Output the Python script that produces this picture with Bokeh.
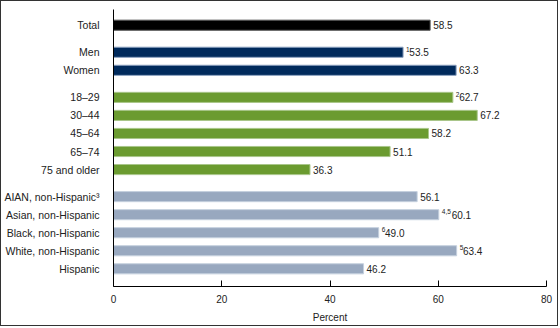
from bokeh.plotting import figure
from bokeh.models import Range1d, FixedTicker, ColumnDataSource
from bokeh.embed import file_html
from bokeh.resources import INLINE
from bokeh.core.properties import value

categories = ["Total", "Men", "Women", "18–29", "30–44", "45–64", "65–74", "75 and older",
              "AIAN, non-Hispanic³", "Asian, non-Hispanic", "Black, non-Hispanic",
              "White, non-Hispanic", "Hispanic"]
positions = [0, 1.5, 2.5, 4, 5, 6, 7, 8, 9.5, 10.5, 11.5, 12.5, 13.5]
values = [58.5, 53.5, 63.3, 62.7, 67.2, 58.2, 51.1, 36.3, 56.1, 60.1, 49.0, 63.4, 46.2]
notes = ["", "1", "", "2", "", "", "", "", "", "4,5", "6", "5", ""]
groups = ["total", "sex", "sex", "age", "age", "age", "age", "age",
          "race", "race", "race", "race", "race"]
x_ticks = [0, 20, 40, 60, 80]

group_fill = {"total": "#000000", "sex": "#002a5c", "age": "#6b9b30", "race": "#98a8bf"}
group_line = {"total": "#555555", "sex": "#8aa0bf", "age": "#a9c68a", "race": "#c5d0de"}

FONT = "Liberation Sans"

src = ColumnDataSource(dict(
    y=positions, v=values,
    fill=[group_fill[g] for g in groups],
    line=[group_line[g] for g in groups],
    label=[f"{x:.1f}" for x in values],
    note=notes,
    off=[3 + (3.3 * len(n) if n else 0) for n in notes],
))

p = figure(width=558, height=326, output_backend="svg", toolbar_location=None,
           x_range=Range1d(0, 80), y_range=Range1d(14.48, -0.87),
           min_border_left=111, min_border_right=13, min_border_top=8, min_border_bottom=41)
p.styles = {"border-top": "1px solid #333333", "border-left": "1px solid #333333",
            "border-right": "1px solid #333333", "border-bottom": "1px solid #333333"}
p.outline_line_color = None
p.grid.visible = False
p.background_fill_color = "white"
p.border_fill_color = "white"

p.hbar(y="y", right="v", left=0, height=0.56, fill_color="fill", line_color="line",
       line_width=1, source=src)

p.text(x="v", y="y", text="label", x_offset="off", text_baseline="middle",
       text_align="left", text_font=value(FONT), text_font_size="10px",
       text_color="#222222", source=src)
p.text(x="v", y="y", text="note", x_offset=3, y_offset=-3, text_baseline="middle",
       text_align="left", text_font=value(FONT), text_font_size="6.5px",
       text_color="#222222", source=src)

xa = p.xaxis[0]
xa.ticker = FixedTicker(ticks=x_ticks)
xa.axis_label = "Percent"
xa.axis_label_text_font = FONT
xa.axis_label_text_font_size = "10px"
xa.axis_label_text_font_style = "normal"
xa.axis_label_text_color = "#222222"
xa.axis_label_standoff = 6
xa.major_label_text_font = FONT
xa.major_label_text_font_size = "10px"
xa.major_label_text_color = "#222222"
xa.major_label_standoff = 8
xa.major_tick_in = 6
xa.major_tick_out = 0
xa.minor_tick_in = 0
xa.minor_tick_out = 0
xa.axis_line_color = "black"
xa.major_tick_line_color = "black"

ya = p.yaxis[0]
ya.ticker = FixedTicker(ticks=positions)
ya.major_label_overrides = {pos: cat for pos, cat in zip(positions, categories)}
ya.major_label_text_font = FONT
ya.major_label_text_font_size = "10.5px"
ya.major_label_text_color = "#222222"
ya.major_label_standoff = 8
ya.major_tick_line_color = None
ya.minor_tick_line_color = None
ya.axis_line_color = "black"

open("out.html", "w").write(file_html(p, INLINE))
